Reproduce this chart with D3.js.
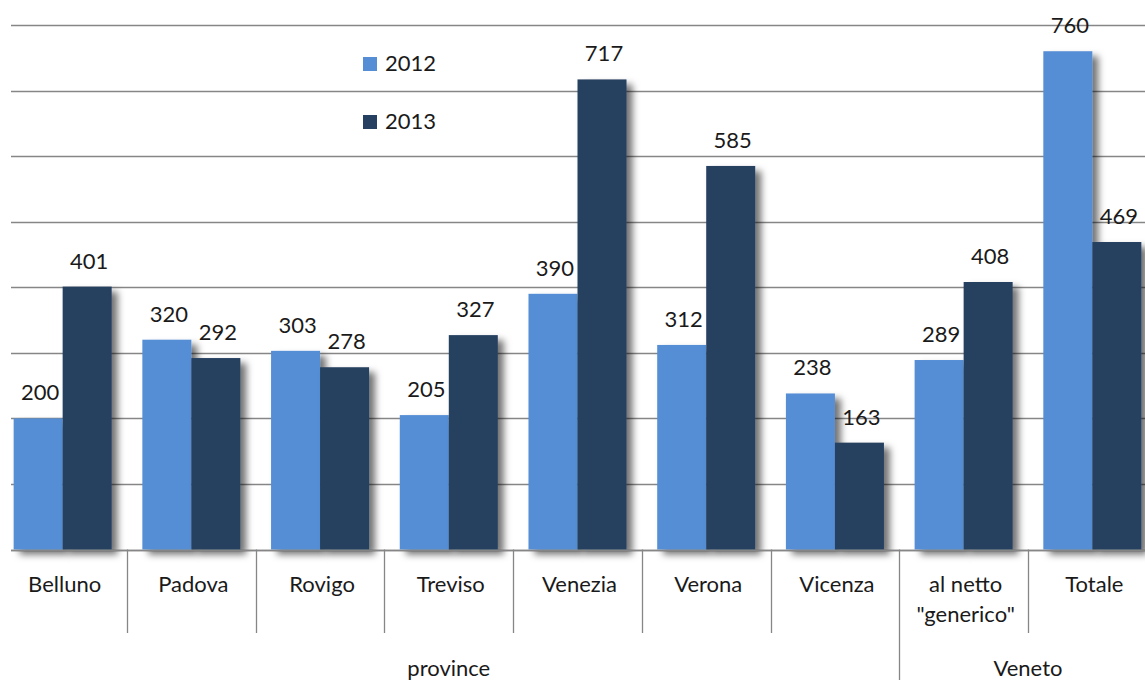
<!DOCTYPE html>
<html>
<head>
<meta charset="utf-8">
<script src="https://cdn.jsdelivr.net/npm/d3@7"></script>
<style>
  body { margin: 0; background: #fff; }
  svg text { font-family: Lato, "Liberation Sans", sans-serif; fill: #1a1a1a; }
</style>
</head>
<body>
<svg id="chart"></svg>
<script>
var width = 1145;
var height = 680;

// data
var categories = ['Belluno', 'Padova', 'Rovigo', 'Treviso', 'Venezia', 'Verona', 'Vicenza', 'al netto\n"generico"', 'Totale'];
var groups = [
  { name: 'province', from: 0, to: 6 },
  { name: 'Veneto', from: 7, to: 8 }
];
var years = ['2012', '2013'];
var values2012 = [200, 320, 303, 205, 390, 312, 238, 289, 760];
var values2013 = [401, 292, 278, 327, 717, 585, 163, 408, 469];
var yTicks = [0, 100, 200, 300, 400, 500, 600, 700, 800];
var colors = ['#558ed5', '#254061'];

var svg = d3.select('#chart')
  .attr('width', width)
  .attr('height', height);

var defs = svg.append('defs');
var shadow = defs.append('filter')
  .attr('id', 'shadow')
  .attr('x', '-20%').attr('y', '-5%')
  .attr('width', '160%').attr('height', '120%');
shadow.append('feDropShadow')
  .attr('dx', 6).attr('dy', 5)
  .attr('stdDeviation', 3.5)
  .attr('flood-color', '#000')
  .attr('flood-opacity', 0.55);

var baseY = 549.5;
var y = d3.scaleLinear()
  .domain([0, 800])
  .range([baseY, 25]);

// categories run off the right edge of the picture
var x = d3.scaleBand()
  .domain(d3.range(categories.length))
  .range([-1.7, 1156.7])
  .paddingInner(0.2385)
  .paddingOuter(0.2385 / 2);

var xs = d3.scaleBand()
  .domain(years)
  .range([0, x.bandwidth()]);

// gridlines
svg.append('g')
  .selectAll('line')
  .data(yTicks)
  .enter()
  .append('line')
  .attr('x1', 11)
  .attr('x2', width)
  .attr('y1', function (d) { return Math.round(y(d)) + 0.5; })
  .attr('y2', function (d) { return Math.round(y(d)) + 0.5; })
  .style('stroke', '#868686')
  .style('stroke-width', 1.3);

// bars
var series = [values2012, values2013];
var barG = svg.append('g');
series.forEach(function (vals, si) {
  barG.selectAll('rect.s' + si)
    .data(vals)
    .enter()
    .append('rect')
    .attr('class', 's' + si)
    .attr('x', function (d, i) { return x(i) + xs(years[si]); })
    .attr('y', function (d) { return y(d); })
    .attr('width', xs.bandwidth())
    .attr('height', function (d) { return baseY - y(d); })
    .attr('filter', 'url(#shadow)')
    .style('fill', colors[si]);
});

// value labels
series.forEach(function (vals, si) {
  svg.append('g')
    .selectAll('text')
    .data(vals)
    .enter()
    .append('text')
    .attr('x', function (d, i) { return x(i) + xs(years[si]) + xs.bandwidth() / 2 + 2; })
    .attr('y', function (d) { return y(d) - 18; })
    .attr('text-anchor', 'middle')
    .style('font-size', '22px')
    .text(function (d) { return d; });
});

// baseline again on top of shadows
svg.append('line')
  .attr('x1', 11).attr('x2', width)
  .attr('y1', Math.round(baseY) + 0.5).attr('y2', Math.round(baseY) + 0.5)
  .style('stroke', '#868686')
  .style('stroke-width', 1.3);

// category separators
var step = x.step();
var x0 = x.range()[0];
svg.append('g')
  .selectAll('line')
  .data(d3.range(1, categories.length))
  .enter()
  .append('line')
  .attr('x1', function (d) { return Math.round(x0 + d * step) + 0.5; })
  .attr('x2', function (d) { return Math.round(x0 + d * step) + 0.5; })
  .attr('y1', baseY)
  .attr('y2', function (d) {
    var isGroupEdge = groups.some(function (g) { return g.from === d; });
    return isGroupEdge ? height : 633;
  })
  .style('stroke', '#868686')
  .style('stroke-width', 1.3);

// category labels
var catText = svg.append('g')
  .selectAll('text')
  .data(categories)
  .enter()
  .append('text')
  .attr('x', function (d, i) { return x(i) + x.bandwidth() / 2 + 2; })
  .attr('y', 592)
  .attr('text-anchor', 'middle')
  .style('font-size', '22px');
catText.each(function (d) {
  var t = d3.select(this);
  d.split('\n').forEach(function (line, li) {
    t.append('tspan')
      .attr('x', t.attr('x'))
      .attr('dy', li === 0 ? 0 : 30)
      .text(line);
  });
});

// group labels
svg.append('g')
  .selectAll('text')
  .data(groups)
  .enter()
  .append('text')
  .attr('x', function (g) { return (x0 + g.from * step + x0 + (g.to + 1) * step) / 2; })
  .attr('y', 676)
  .attr('text-anchor', 'middle')
  .style('font-size', '22px')
  .text(function (g) { return g.name; });

// legend
var legend = svg.append('g')
  .selectAll('g')
  .data(years)
  .enter()
  .append('g')
  .attr('transform', function (d, i) { return 'translate(363,' + (57 + i * 58) + ')'; });
legend.append('rect')
  .attr('width', 14)
  .attr('height', 14)
  .style('fill', function (d, i) { return colors[i]; });
legend.append('text')
  .attr('x', 22)
  .attr('y', 14)
  .style('font-size', '22px')
  .text(function (d) { return d; });
</script>
</body>
</html>
